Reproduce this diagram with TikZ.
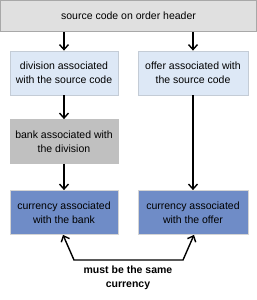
\documentclass[tikz,border=0pt]{standalone}
\usepackage{fontspec}
\setmainfont{Liberation Sans}
\usetikzlibrary{arrows.meta}
\definecolor{hdrgray}{HTML}{E0E0E0}
\definecolor{hdrline}{HTML}{A8A8A8}
\definecolor{ltblue}{HTML}{DDE8F6}
\definecolor{ltline}{HTML}{C4CCD6}
\definecolor{bankgray}{HTML}{C0C0C0}
\definecolor{curblue}{HTML}{6F8CC7}
\definecolor{curline}{HTML}{D4D4D4}
\begin{document}
\begin{tikzpicture}[
  x=1pt,y=-1pt,
  box/.style={draw,line width=0.8pt,align=center,inner sep=0pt,
    font=\fontsize{10.5}{14}\selectfont,minimum height=44pt},
  arr/.style={line width=1.4pt,-{Straight Barb[length=5pt,width=9pt]}},
  both/.style={line width=1.4pt,line join=miter,
    {Straight Barb[length=5pt,width=9pt]}-{Straight Barb[length=5pt,width=9pt]}},
]
  \useasboundingbox (0,0) rectangle (257,300);
  \node[box,fill=hdrgray,draw=hdrline,minimum width=256pt,minimum height=31pt] (hdr) at (128.5,16) {source code on order header};
  \node[box,fill=ltblue,draw=ltline,minimum width=108pt]   (div) at (64,73)    {division associated\\with the source code};
  \node[box,fill=ltblue,draw=ltline,minimum width=110pt]   (off) at (193,73)   {offer associated with\\the source code};
  \node[box,fill=bankgray,draw=bankgray,minimum width=108pt] (bank) at (64,141.5) {bank associated with\\the division};
  \node[box,fill=curblue,draw=curline,minimum width=108pt]  (curbank) at (64,212.5)  {currency associated\\with the bank};
  \node[box,fill=curblue,draw=curline,minimum width=110pt]  (curoff) at (193,212.5) {currency associated\\with the offer};
  \node[align=center,inner sep=0pt,font=\fontsize{10.5}{14}\selectfont\bfseries] (same) at (128,278) {must be the same\\currency};
  \coordinate (lft) at (74,260);
  \coordinate (rgt) at (183,260);
  \draw[arr] (hdr.south -| div) -- (div);
  \draw[arr] (hdr.south -| off) -- (off);
  \draw[arr] (div) -- (bank);
  \draw[arr] (bank) -- (curbank);
  \draw[arr] (off) -- (curoff);
  \draw[both] ([xshift=-1pt]curbank.south) -- (lft) -- (rgt) -- ([xshift=1pt]curoff.south);
\end{tikzpicture}
\end{document}
